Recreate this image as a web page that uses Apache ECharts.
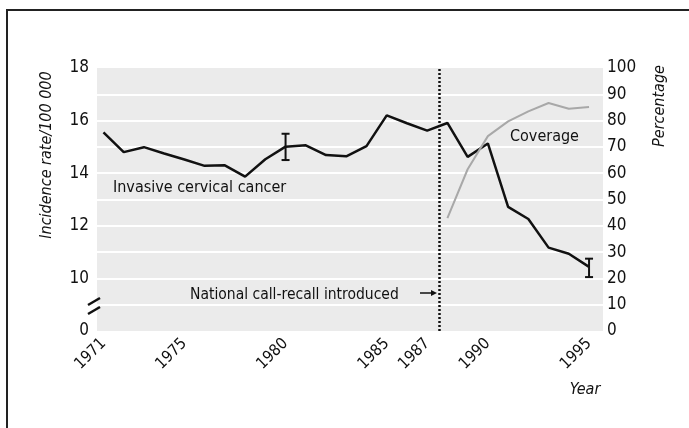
<!DOCTYPE html>
<html>
<head>
<meta charset="utf-8">
<script src="https://cdn.jsdelivr.net/npm/echarts@6/dist/echarts.min.js"></script>
<style>
  html, body { margin: 0; padding: 0; background: #fff; }
  #chart { width: 689px; height: 428px; }
</style>
</head>
<body>
<div id="chart"></div>
<script>
// incidence of invasive cervical cancer per 100 000, 1971-1995
const years = [1971, 1972, 1973, 1974, 1975, 1976, 1977, 1978, 1979, 1980,
  1981, 1982, 1983, 1984, 1985, 1986, 1987, 1988, 1989, 1990,
  1991, 1992, 1993, 1994, 1995]
const incidence = [15.55, 14.8, 14.99, 14.75, 14.52, 14.28, 14.3, 13.87, 14.53, 15.01,
  15.06, 14.69, 14.64, 15.03, 16.2, 15.9, 15.62, 15.91, 14.62, 15.13,
  12.72, 12.26, 11.17, 10.94, 10.44]

// screening coverage (%), right axis
const coverageYears = [1988, 1989, 1990, 1991, 1992, 1993, 1994, 1995]
const coverage = [42.9, 61.5, 74.1, 79.7, 83.5, 86.7, 84.5, 85.2]

// error bars: [year, low, high]
const errorBars = [[1980, 14.5, 15.5], [1995, 10.05, 10.75]]

const yearTicks = [1971, 1975, 1980, 1985, 1987, 1990, 1995]
const rateTicks = [8, 10, 12, 14, 16, 18]   // 8 is shown as the broken-axis "0"
const callRecallYear = 1987.6

const font = '"DejaVu Sans Condensed", "Liberation Sans", Arial, sans-serif'

const chart = echarts.init(document.getElementById('chart'))

chart.setOption({
  animation: false,
  backgroundColor: '#fff',
  textStyle: { fontFamily: font },
  grid: {
    left: 97, right: 86, top: 68, bottom: 97,
    show: true, backgroundColor: '#ebebeb', borderWidth: 0
  },
  xAxis: {
    type: 'value',
    min: 1970.68,
    max: 1995.69,
    axisLine: { show: false },
    axisTick: { show: false },
    splitLine: { show: false },
    axisLabel: {
      customValues: yearTicks,
      rotate: 45,
      margin: 10,
      color: '#111',
      fontSize: 16,
      fontFamily: font,
      formatter: v => String(v)
    }
  },
  yAxis: [
    {
      type: 'value',
      min: 8,
      max: 18,
      axisLine: { show: false },
      axisTick: { show: false },
      splitLine: { show: false },
      axisLabel: {
        customValues: rateTicks,
        margin: 8,
        color: '#111',
        fontSize: 17,
        fontFamily: font,
        formatter: v => (v === 8 ? '0' : String(v))
      }
    },
    {
      type: 'value',
      min: 0,
      max: 100,
      interval: 10,
      position: 'right',
      axisLine: { show: false },
      axisTick: { show: false },
      splitLine: {
        show: true,
        showMinLine: false,
        showMaxLine: false,
        lineStyle: { color: '#fff', width: 2 }
      },
      axisLabel: {
        margin: 4,
        color: '#111',
        fontSize: 17,
        fontFamily: font
      }
    }
  ],
  series: [
    {
      name: 'Invasive cervical cancer',
      type: 'line',
      yAxisIndex: 0,
      data: years.map((y, i) => [y, incidence[i]]),
      symbol: 'none',
      lineStyle: { color: '#111', width: 2.5 },
      markLine: {
        silent: true,
        symbol: 'none',
        label: { show: false },
        lineStyle: { color: '#111', type: [2, 2], width: 2.5 },
        data: [{ xAxis: callRecallYear }]
      }
    },
    {
      name: 'Coverage',
      type: 'line',
      yAxisIndex: 1,
      data: coverageYears.map((y, i) => [y, coverage[i]]),
      symbol: 'none',
      lineStyle: { color: '#a8a8a8', width: 2 }
    },
    {
      name: 'error',
      type: 'custom',
      yAxisIndex: 0,
      data: errorBars,
      renderItem: function (params, api) {
        const top = api.coord([api.value(0), api.value(2)])
        const bot = api.coord([api.value(0), api.value(1)])
        const w = 4
        const style = { stroke: '#111', lineWidth: 2 }
        return {
          type: 'group',
          children: [
            { type: 'line', shape: { x1: top[0], y1: top[1], x2: bot[0], y2: bot[1] }, style },
            { type: 'line', shape: { x1: top[0] - w, y1: top[1], x2: top[0] + w, y2: top[1] }, style },
            { type: 'line', shape: { x1: bot[0] - w, y1: bot[1], x2: bot[0] + w, y2: bot[1] }, style }
          ]
        }
      }
    }
  ],
  graphic: [
    // frame
    { type: 'line', shape: { x1: 7, y1: 10, x2: 7, y2: 428 }, style: { stroke: '#222', lineWidth: 2 } },
    { type: 'line', shape: { x1: 6, y1: 10, x2: 689, y2: 10 }, style: { stroke: '#222', lineWidth: 2 } },
    // axis break marks
    { type: 'line', shape: { x1: 88, y1: 305, x2: 100, y2: 298 }, style: { stroke: '#111', lineWidth: 2.5 } },
    { type: 'line', shape: { x1: 88, y1: 314, x2: 100, y2: 307 }, style: { stroke: '#111', lineWidth: 2.5 } },
    // axis names
    {
      type: 'text', x: 47, y: 155, rotation: Math.PI / 2,
      style: { text: 'Incidence rate/100 000', font: 'italic 16px ' + font, fill: '#111', align: 'center', verticalAlign: 'middle' }
    },
    {
      type: 'text', x: 660, y: 106, rotation: Math.PI / 2,
      style: { text: 'Percentage', font: 'italic 16px ' + font, fill: '#111', align: 'center', verticalAlign: 'middle' }
    },
    {
      type: 'text', x: 585, y: 390,
      style: { text: 'Year', font: 'italic 16px ' + font, fill: '#111', align: 'center', verticalAlign: 'middle' }
    },
    // annotations
    {
      type: 'text', x: 113, y: 188,
      style: { text: 'Invasive cervical cancer', font: '16px ' + font, fill: '#111', align: 'left', verticalAlign: 'middle' }
    },
    {
      type: 'text', x: 510, y: 137,
      style: { text: 'Coverage', font: '16px ' + font, fill: '#111', align: 'left', verticalAlign: 'middle' }
    },
    {
      type: 'text', x: 190, y: 295,
      style: { text: 'National call-recall introduced', font: '15.5px ' + font, fill: '#111', align: 'left', verticalAlign: 'middle' }
    },
    { type: 'line', shape: { x1: 420, y1: 293, x2: 434, y2: 293 }, style: { stroke: '#111', lineWidth: 1.5 } },
    { type: 'polygon', shape: { points: [[437, 293], [431, 290], [431, 296]] }, style: { fill: '#111' } }
  ]
})
</script>
</body>
</html>
